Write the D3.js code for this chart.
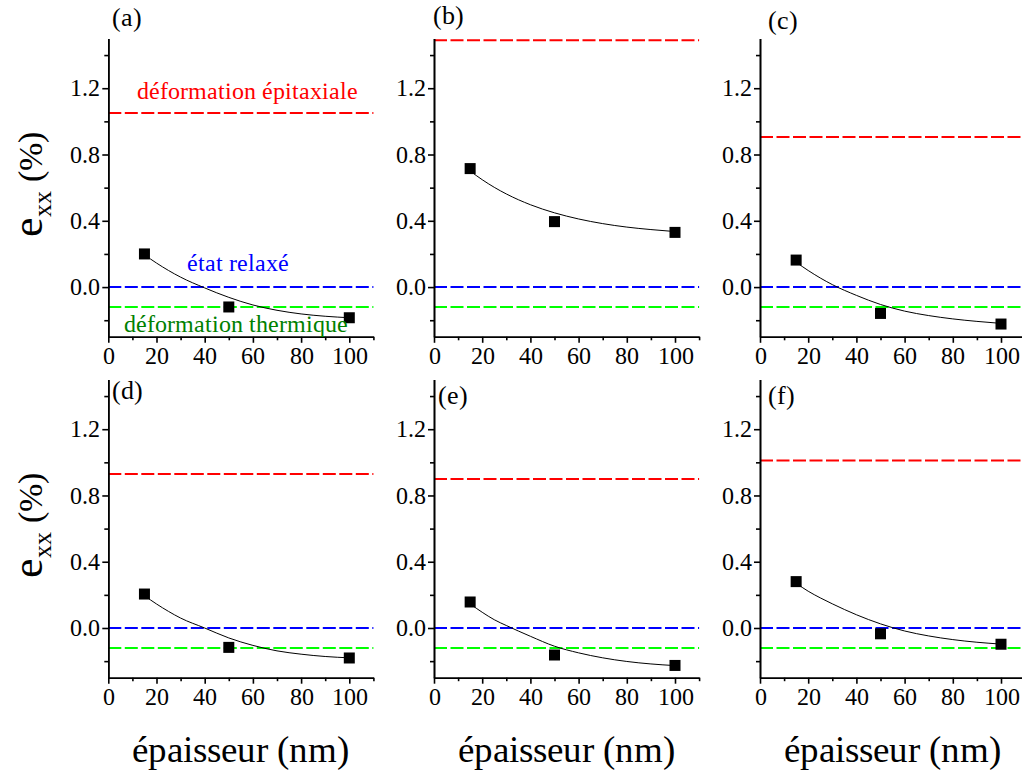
<!DOCTYPE html>
<html>
<head>
<meta charset="utf-8">
<script src="https://cdn.jsdelivr.net/npm/d3@7"></script>
<style>
  @font-face { font-family: "ChartSerif"; src: local("Liberation Serif"), local("LiberationSerif"), local("LiberationSerif-Regular"), local("Times New Roman"), local("Tinos"), local("FreeSerif"); }
  html, body { margin: 0; padding: 0; background: #fff; }
  svg { display: block; }
  svg text { font-family: "ChartSerif", "Liberation Serif", "Times New Roman", Tinos, FreeSerif, serif; }
</style>
</head>
<body>
<svg id="chart" width="1022" height="778"></svg>
<script>
// ---------------- data ----------------
const panelLetters = ["(a)", "(b)", "(c)", "(d)", "(e)", "(f)"];
const thickness = [15, 50, 100];
const pointsA = [0.20, -0.12, -0.185];
const pointsB = [0.715, 0.395, 0.33];
const pointsC = [0.163, -0.159, -0.223];
const pointsD = [0.205, -0.117, -0.181];
const pointsE = [0.157, -0.163, -0.226];
const pointsF = [0.28, -0.035, -0.098];

const fitX = [15, 20, 25, 30, 40, 50, 60, 70, 80, 90, 100];
const fitA = [0.195, 0.145, 0.10, 0.06, -0.005, -0.062, -0.108, -0.14, -0.162, -0.176, -0.185];
const fitB = [0.70, 0.648, 0.602, 0.562, 0.497, 0.448, 0.411, 0.383, 0.362, 0.347, 0.335];
const fitC = [0.15, 0.10, 0.055, 0.015, -0.05, -0.105, -0.145, -0.172, -0.192, -0.207, -0.219];
const fitD = [0.195, 0.145, 0.10, 0.06, 0.0, -0.06, -0.105, -0.138, -0.158, -0.172, -0.18];
const fitE = [0.145, 0.095, 0.05, 0.015, -0.05, -0.11, -0.15, -0.18, -0.202, -0.217, -0.227];
const fitF = [0.27, 0.222, 0.182, 0.146, 0.08, 0.025, -0.018, -0.048, -0.07, -0.086, -0.097];

const epitaxial = [1.05, 1.49, 0.906, 0.929, 0.899, 1.011];
const relaxed = 0.0;
const thermal = -0.12;

const xMajorTicks = [0, 20, 40, 60, 80, 100];
const xMinorTicks = [10, 30, 50, 70, 90, 110];
const yMajorTicks = [0.0, 0.4, 0.8, 1.2];
const yMinorTicks = [-0.2, 0.2, 0.6, 1.0, 1.4];

const xTitle = "épaisseur (nm)";
const labelEpitaxial = "déformation épitaxiale";
const labelRelaxed = "état relaxé";
const labelThermal = "déformation thermique";

// ---------------- layout ----------------
const FONT = '"ChartSerif", "Liberation Serif", "Times New Roman", Tinos, FreeSerif, serif';
const W = 1022, H = 778;
const colX = [108.3, 434, 760];
const rowY = [[336.8, 38.5], [677.7, 379.5]];
const plotW = 265.1;
const letterPos = [[112, 25.5], [433, 23.5], [768, 28.5], [112, 399], [438, 404], [768, 404]];

const allPoints = [pointsA, pointsB, pointsC, pointsD, pointsE, pointsF];
const allFits = [fitA, fitB, fitC, fitD, fitE, fitF];

const svg = d3.select("#chart");
svg.append("rect").attr("width", W).attr("height", H).attr("fill", "#fff");

const RED = "#ff0000", BLUE = "#0000ff", GREEN = "#00ff00", DKGREEN = "#008000";

function addText(x, y, size, color, str) {
  return svg.append("text").attr("x", x).attr("y", y)
    .style("font-family", FONT).attr("font-size", size).attr("fill", color).text(str);
}

for (let i = 0; i < 6; i++) {
  const col = i % 3, row = Math.floor(i / 3);
  const x = d3.scaleLinear().domain([0, 110]).range([colX[col], colX[col] + plotW]);
  const y = d3.scaleLinear().domain([-0.3, 1.5]).range(rowY[row]);
  const g = svg.append("g");

  // reference dashed lines
  [[epitaxial[i], RED], [relaxed, BLUE], [thermal, GREEN]].forEach(([v, c]) => {
    g.append("line")
      .attr("x1", x(0)).attr("x2", x(110))
      .attr("y1", y(v)).attr("y2", y(v))
      .attr("stroke", c).attr("stroke-width", 2)
      .attr("stroke-dasharray", "13,3.5");
  });

  // fit curve
  const line = d3.line().x(d => x(d[0])).y(d => y(d[1])).curve(d3.curveMonotoneX);
  g.append("path")
    .datum(fitX.map((v, k) => [v, allFits[i][k]]))
    .attr("d", line)
    .attr("fill", "none").attr("stroke", "#000").attr("stroke-width", 1);

  // markers
  const s = 11;
  g.selectAll("rect.pt").data(thickness.map((t, k) => [t, allPoints[i][k]]))
    .enter().append("rect")
    .attr("x", d => x(d[0]) - s / 2).attr("y", d => y(d[1]) - s / 2)
    .attr("width", s).attr("height", s).attr("fill", "#000");

  // axes
  const yMinor = g.append("g").attr("transform", `translate(${colX[col]},0)`)
    .call(d3.axisLeft(y).tickValues(yMinorTicks).tickSize(4).tickSizeOuter(0).tickFormat(""));
  const yMajor = g.append("g").attr("transform", `translate(${colX[col]},0)`)
    .call(d3.axisLeft(y).tickValues(yMajorTicks).tickSize(6).tickSizeOuter(0).tickPadding(2).tickFormat(d3.format(".1f")));
  const xMinor = g.append("g").attr("transform", `translate(0,${rowY[row][0]})`)
    .call(d3.axisBottom(x).tickValues(xMinorTicks).tickSize(3.5).tickSizeOuter(0).tickFormat(""));
  const xMajor = g.append("g").attr("transform", `translate(0,${rowY[row][0]})`)
    .call(d3.axisBottom(x).tickValues(xMajorTicks).tickSize(6).tickSizeOuter(0).tickFormat(d3.format("d")));
  [yMinor, yMajor, xMinor, xMajor].forEach(a => {
    a.attr("font-family", null).attr("font-size", 24);
    a.selectAll("path.domain").attr("stroke", "#000").attr("stroke-width", 1.6);
    a.selectAll("line").attr("stroke", "#000").attr("stroke-width", 1.6);
    a.selectAll("text").style("font-family", FONT).attr("font-size", 24).attr("fill", "#000");
  });
  xMajor.selectAll("text").attr("dy", null).attr("y", 27);

  // panel letter
  addText(letterPos[i][0], letterPos[i][1], 26, "#000", panelLetters[i]);

  // y title on first column
  if (col === 0) {
    const cy = (rowY[row][0] + rowY[row][1]) / 2 - 3;
    const t = svg.append("text")
      .attr("transform", `translate(42,${cy}) rotate(-90)`)
      .style("font-family", FONT)
      .attr("text-anchor", "middle").attr("fill", "#000");
    t.append("tspan").attr("font-size", 44).text("e");
    t.append("tspan").attr("font-size", 26).attr("dy", 9).text("xx");
    t.append("tspan").attr("font-size", 34).attr("dy", -9).text("\u00a0(%)");
  }
  // x title on bottom row
  if (row === 1) {
    addText(colX[col] + plotW / 2, 762, 37, "#000", xTitle).attr("text-anchor", "middle");
  }
  // annotations on panel (a)
  if (i === 0) {
    addText(x(12), 98.5, 24, RED, labelEpitaxial);
    addText(x(32.5), 270.5, 24, BLUE, labelRelaxed);
    addText(x(6.5), 332, 24, DKGREEN, labelThermal);
  }
}
</script>
</body>
</html>
